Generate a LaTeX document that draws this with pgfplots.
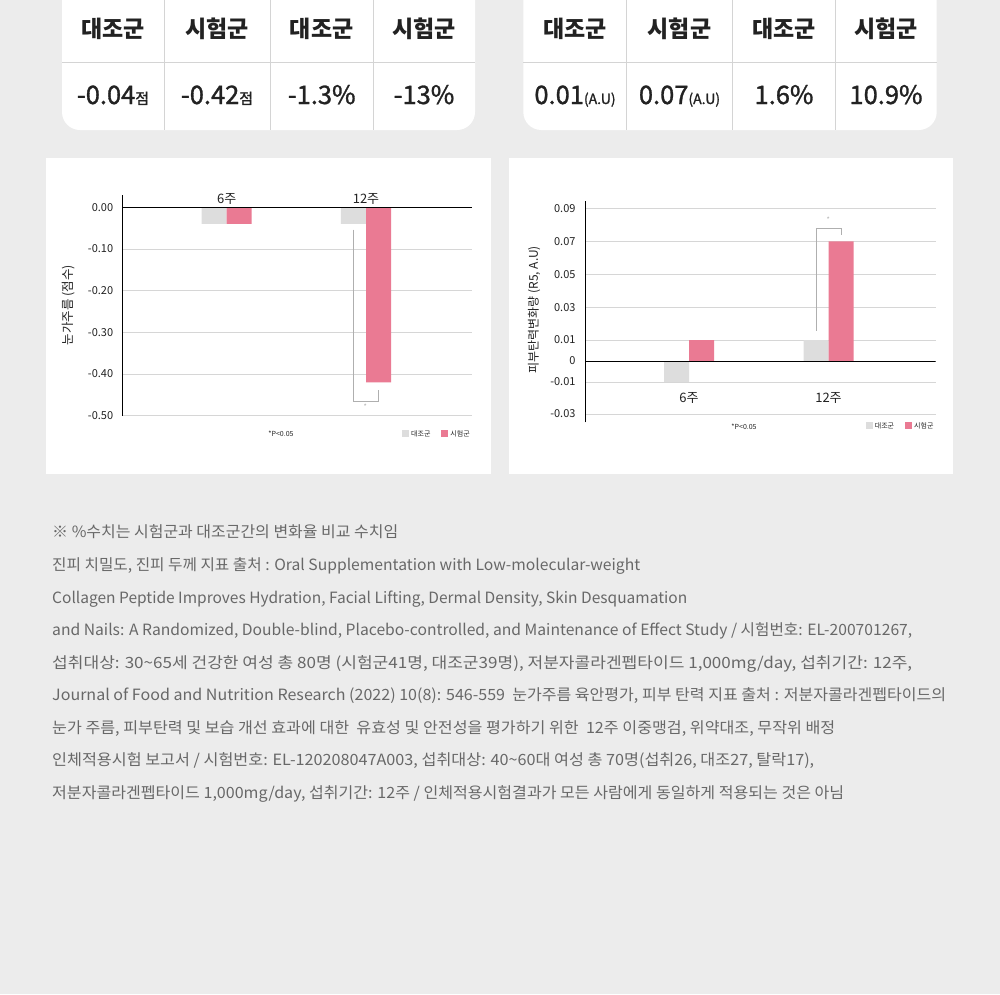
\documentclass[border=0pt]{standalone}
\usepackage{fontspec}
\setmainfont{Noto Sans CJK KR}
\newfontfamily\medfont{Noto Sans CJK KR}[FakeBold=1.2]
\usepackage{graphicx}
\usepackage{pgfplots}
\pgfplotsset{compat=1.18}
\definecolor{bgGray}{RGB}{236,236,236}
\definecolor{barGray}{RGB}{221,221,221}
\definecolor{barPink}{RGB}{234,122,147}
\definecolor{gridGray}{RGB}{214,214,214}
\definecolor{divGray}{RGB}{212,212,212}
\definecolor{textDark}{RGB}{34,34,34}
\definecolor{noteGray}{RGB}{104,104,104}
\definecolor{bracketGray}{RGB}{175,175,175}
\pgfplotsset{sq/.style={legend image code/.code={\fill[##1] (0pt,-3pt) rectangle (7pt,4pt);}}}
\newcommand\fl[3]{\node[anchor=base west, inner sep=0pt, text=noteGray, font=\fontsize{15.5}{15.5}\selectfont] at (52pt,-#1pt) {\resizebox{#2pt}{\height}{#3}};}
\begin{document}
\begin{tikzpicture}
\useasboundingbox (0pt,0pt) rectangle (1000pt,-994pt);
\fill[bgGray] (0pt,0pt) rectangle (1000pt,-994pt);
\begin{scope}
\clip (0pt,0pt) rectangle (1000pt,-994pt);
\fill[white, rounded corners=18pt] (62pt,30pt) rectangle (475pt,-130pt);
\fill[white, rounded corners=18pt] (523.3pt,30pt) rectangle (936.7pt,-130pt);
\end{scope}
% table lines
\draw[divGray, line width=0.8pt] (62pt,-62.3pt) -- (475pt,-62.3pt);
\draw[divGray, line width=0.8pt] (523.3pt,-62.3pt) -- (936.7pt,-62.3pt);
\foreach \xx in {164.3,270,373.3,626.7,732.3,835.7}{
  \draw[divGray, line width=0.8pt] (\xx pt,0pt) -- (\xx pt,-130pt);
}
% table headers
\foreach \xx/\tt in {113/대조군,217/시험군,321.7/대조군,424/시험군,575/대조군,679.5/시험군,784/대조군,886/시험군}{
  \node[anchor=base, text=textDark, font=\fontsize{23}{23}\selectfont\bfseries] at (\xx pt,-37pt) {\tt};
}
% table values
\tikzset{val/.style={anchor=base, text=textDark, font=\medfont\fontsize{25.5}{25.5}\selectfont}}
\node[val] at (113pt,-104pt) {-0.04{\fontsize{15}{15}\selectfont 점}};
\node[val] at (217pt,-104pt) {-0.42{\fontsize{15}{15}\selectfont 점}};
\node[val] at (321.7pt,-104pt) {-1.3\%};
\node[val] at (424pt,-104pt) {-13\%};
\node[val] at (575pt,-104pt) {0.01{\fontsize{14}{14}\selectfont (A.U)}};
\node[val] at (679.5pt,-104pt) {0.07{\fontsize{14}{14}\selectfont (A.U)}};
\node[val] at (784pt,-104pt) {1.6\%};
\node[val] at (886pt,-104pt) {10.9\%};
% chart panels
\fill[white] (46pt,-158pt) rectangle (491pt,-474pt);
\fill[white] (509pt,-158pt) rectangle (953pt,-474pt);

% left chart
\begin{axis}[
  at={(122.7pt,-415.7pt)}, anchor=south west,
  scale only axis, width=349.3pt, height=220.7pt,
  xmin=-0.7466, xmax=1.761, ymin=-0.5, ymax=0.02951,
  axis x line*=bottom, axis y line*=left,
  x axis line style={draw=none},
  y axis line style={line width=0.9pt, black},
  xtick={0,1}, xticklabels={6주,12주},
  xticklabel style={anchor=base, yshift=212.4pt, font=\fontsize{13}{13}\selectfont, text=textDark},
  ytick={-0.5,-0.4,-0.3,-0.2,-0.1,0},
  yticklabels={-0.50,-0.40,-0.30,-0.20,-0.10,0.00},
  yticklabel style={font=\fontsize{11}{11}\selectfont, text=textDark, xshift=-6pt},
  /pgf/number format/assume math mode=true,
  major tick length=0pt,
  ymajorgrids, grid style={gridGray, line width=0.8pt},
  ylabel={눈가주름 (점수)},
  ylabel style={at={(rel axis cs:-0.1537,0.5)}, anchor=center, font=\fontsize{12.5}{12.5}\selectfont, text=textDark},
  ybar=0pt, bar width=25pt,
  legend columns=2,
  legend style={at={(1,-0.0829)}, anchor=east, draw=none, fill=none, inner sep=0pt,
    font=\fontsize{7}{7}\selectfont, text=textDark,
    /tikz/every even column/.append style={column sep=9pt}},
]
\addplot[fill=barGray, draw=none, sq] coordinates {(0,-0.04) (1,-0.04)};
\addlegendentry{대조군}
\addplot[fill=barPink, draw=none, sq] coordinates {(0,-0.04) (1,-0.42)};
\addlegendentry{시험군}
\draw[black, line width=0.9pt] (axis cs:-0.7466,0) -- (axis cs:1.761,0);
\draw[bracketGray, line width=0.8pt] (axis cs:0.909,-0.0537) -- (axis cs:0.909,-0.4655) -- (axis cs:1.088,-0.4655) -- (axis cs:1.088,-0.4376);
\node[text=bracketGray, font=\fontsize{7}{7}\selectfont] at (axis cs:0.995,-0.4775) {*};
\end{axis}
\node[text=textDark, font=\fontsize{7}{7}\selectfont] at (281pt,-434pt) {*P<0.05};

% right chart
\begin{axis}[
  at={(585pt,-422.3pt)}, anchor=south west,
  scale only axis, width=350.7pt, height=221pt,
  y coord trafo/.code={\pgfmathparse{(#1>=0.01)?(21+(#1-0.01)*1645):((#1>=-0.01)?(#1*2100):(-21+(#1+0.01)*1600))}},
  y coord inv trafo/.code={\pgfmathparse{(#1>=21)?((#1-21)/1645+0.01):((#1>=-21)?(#1/2100):((#1+21)/1600-0.01))}},
  xmin=-0.7455, xmax=1.7685, ymin=-0.03519, ymax=0.09432,
  axis x line*=bottom, axis y line*=left,
  x axis line style={draw=none},
  y axis line style={line width=0.9pt, black},
  xtick={0,1}, xticklabels={6주,12주},
  xticklabel style={anchor=base, yshift=19.8pt, font=\fontsize{13}{13}\selectfont, text=textDark},
  ytick={-0.03,-0.01,0,0.01,0.03,0.05,0.07,0.09},
  yticklabels={-0.03,-0.01,0,0.01,0.03,0.05,0.07,0.09},
  yticklabel style={font=\fontsize{11}{11}\selectfont, text=textDark, xshift=-6pt},
  /pgf/number format/assume math mode=true,
  major tick length=0pt,
  ymajorgrids, grid style={gridGray, line width=0.8pt},
  ylabel={피부탄력변화량 (R5, A.U)},
  ylabel style={at={(rel axis cs:-0.1454,0.5095)}, anchor=center, font=\fontsize{12}{12}\selectfont, text=textDark},
  ybar=0pt, bar width=25pt,
  legend columns=2,
  legend style={at={(1,-0.0167)}, anchor=east, draw=none, fill=none, inner sep=0pt,
    font=\fontsize{7}{7}\selectfont, text=textDark,
    /tikz/every even column/.append style={column sep=9pt}},
]
\addplot[fill=barGray, draw=none, sq] coordinates {(0,-0.01) (1,0.01)};
\addlegendentry{대조군}
\addplot[fill=barPink, draw=none, sq] coordinates {(0,0.01) (1,0.07)};
\addlegendentry{시험군}
\draw[black, line width=0.9pt] (axis cs:-0.7455,0) -- (axis cs:1.7685,0);
\draw[bracketGray, line width=0.8pt] (axis cs:0.9104,0.01547) -- (axis cs:0.9104,0.0781) -- (axis cs:1.0896,0.0781) -- (axis cs:1.0896,0.0740);
\node[text=bracketGray, font=\fontsize{7}{7}\selectfont] at (axis cs:0.9986,0.0831) {*};
\end{axis}
\node[text=textDark, font=\fontsize{7}{7}\selectfont] at (744pt,-426.3pt) {*P<0.05};

% footnotes
\fl{537}{346}{※ \%수치는 시험군과 대조군간의 변화율 비교 수치임}
\fl{570}{588}{진피 치밀도, 진피 두께 지표 출처 : Oral Supplementation with Low-molecular-weight}
\fl{603}{635}{Collagen Peptide Improves Hydration,  Facial Lifting, Dermal Density, Skin Desquamation}
\fl{635}{860}{and Nails: A Randomized, Double-blind, Placebo-controlled, and Maintenance of Effect Study / 시험번호: EL-200701267,}
\fl{668}{860}{섭취대상: 30\textasciitilde 65세 건강한 여성 총 80명 (시험군41명, 대조군39명), 저분자콜라겐펩타이드 1,000mg/day, 섭취기간: 12주,}
\fl{700}{894}{Journal of Food and Nutrition Research (2022) 10(8): 546-559 \ 눈가주름 육안평가, 피부 탄력 지표 출처 : 저분자콜라겐펩타이드의}
\fl{733}{783}{눈가 주름, 피부탄력 및 보습 개선 효과에 대한 \ 유효성 및 안전성을 평가하기 위한 \ 12주 이중맹검, 위약대조, 무작위 배정}
\fl{765}{762}{인체적용시험 보고서 / 시험번호: EL-120208047A003, 섭취대상: 40\textasciitilde 60대 여성 총 70명(섭취26, 대조27, 탈락17),}
\fl{798}{792}{저분자콜라겐펩타이드 1,000mg/day, 섭취기간: 12주 / 인체적용시험결과가 모든 사람에게 동일하게 적용되는 것은 아님}
\end{tikzpicture}
\end{document}
